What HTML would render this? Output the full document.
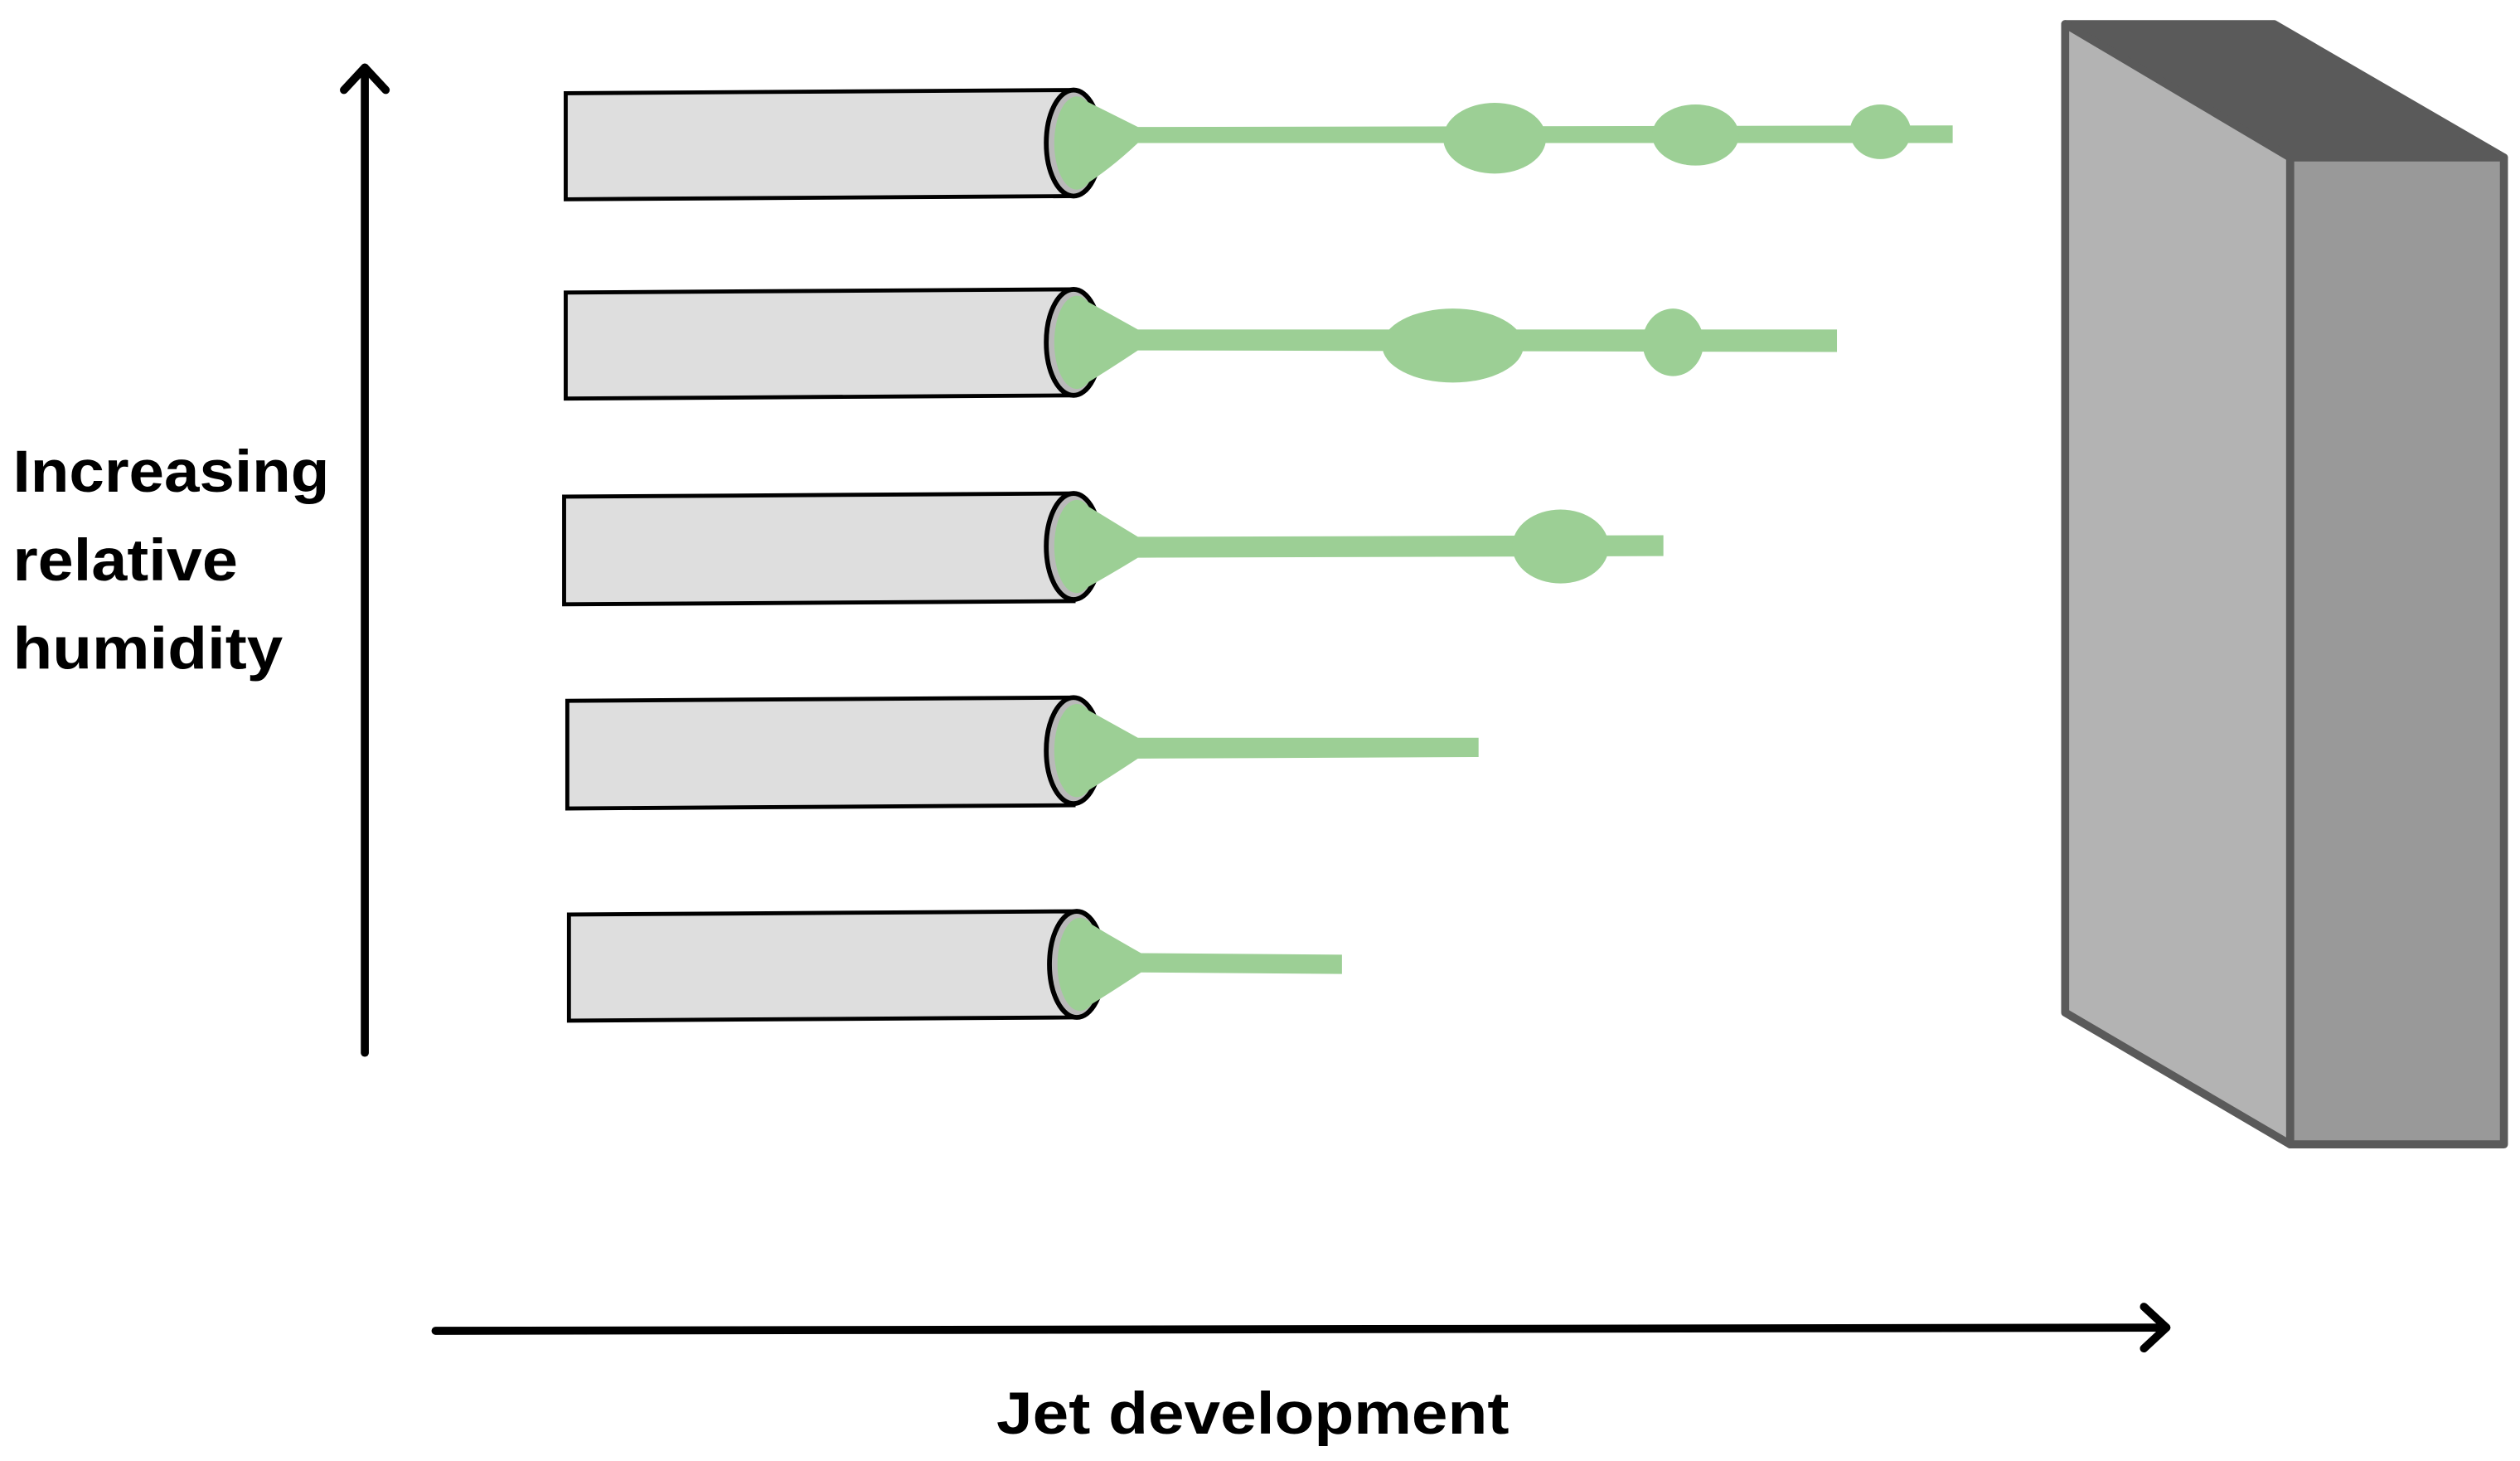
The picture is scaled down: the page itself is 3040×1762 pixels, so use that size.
<!DOCTYPE html>
<html><head><meta charset="utf-8"><style>
html,body{margin:0;padding:0;background:#fff;}
svg{display:block;}
text{font-family:"Liberation Sans",sans-serif;font-weight:bold;fill:#000;}
</style></head><body>
<svg width="3040" height="1762" viewBox="0 0 1568 909" preserveAspectRatio="none" xmlns="http://www.w3.org/2000/svg">
<rect width="1568" height="909" fill="#fff"/>
<g stroke="#5a5a5a" stroke-width="5" stroke-linejoin="round">
<polygon points="1285,15 1415,15 1558,98 1425,98" fill="#5a5a5a"/>
<polygon points="1285,15 1425,98 1425,712 1285,630" fill="#b3b3b3"/>
<polygon points="1425,98 1558,98 1558,712 1425,712" fill="#999"/>
</g>
<g stroke="#000" stroke-width="5" fill="none" stroke-linecap="round" stroke-linejoin="round">
<line x1="227" y1="655" x2="227" y2="42"/>
<polyline points="214,56 227,42 240,56"/>
<line x1="271" y1="828" x2="1348" y2="826"/>
<polyline points="1334,813 1348,826 1334,839"/>
</g>
<g fill="#dedede" stroke="#000" stroke-width="2.5">
<path d="M352,58 L668,56 L668,122 L352,124 Z"/>
<path d="M352,182 L668,180 L668,246 L352,248 Z"/>
<path d="M351,309 L668,307 L668,374 L351,376 Z"/>
<path d="M353,436 L668,434 L668,501 L353,503 Z"/>
<path d="M354,569 L668,567 L668,633 L354,635 Z"/>
</g>
<g fill="#b9b9b9" stroke="#000" stroke-width="3">
<ellipse cx="668" cy="89" rx="17" ry="33"/>
<ellipse cx="668" cy="213" rx="17" ry="33"/>
<ellipse cx="668" cy="340" rx="17" ry="33"/>
<ellipse cx="668" cy="467" rx="17" ry="33"/>
<ellipse cx="670" cy="600" rx="17" ry="33"/>
</g>
<g fill="#9ccf95">
<ellipse cx="670" cy="89" rx="14" ry="29"/>
<path d="M672,61 Q690,70 708,79 L1215,78 L1215,89 L708,89 Q690,106 672,117 Z"/>
<ellipse cx="930" cy="86" rx="32" ry="22"/>
<ellipse cx="1055" cy="84" rx="27" ry="19"/>
<ellipse cx="1170" cy="82" rx="19" ry="17"/>

<ellipse cx="670" cy="213" rx="14" ry="29"/>
<path d="M672,185 Q690,195 708,205 L1143,205 L1143,219 L708,218 Q690,230 672,241 Z"/>
<ellipse cx="904" cy="215" rx="44" ry="23"/>
<ellipse cx="1041" cy="213" rx="19" ry="21"/>

<ellipse cx="670" cy="340" rx="14" ry="29"/>
<path d="M672,312 Q690,323 708,334 L1035,333 L1035,346 L708,347 Q690,358 672,368 Z"/>
<ellipse cx="971" cy="340" rx="30" ry="23"/>

<ellipse cx="670" cy="467" rx="14" ry="29"/>
<path d="M672,439 Q690,449 708,459 L920,459 L920,471 L708,472 Q690,484 672,495 Z"/>

<ellipse cx="672" cy="600" rx="14" ry="29"/>
<path d="M674,572 Q692,583 710,593 L835,594 L835,606 L710,605 Q692,617 674,628 Z"/>
</g>
<text x="8" y="306" font-size="37" textLength="197" lengthAdjust="spacingAndGlyphs">Increasing</text>
<text x="8" y="361" font-size="37" textLength="140" lengthAdjust="spacingAndGlyphs">relative</text>
<text x="8" y="416" font-size="37" textLength="168" lengthAdjust="spacingAndGlyphs">humidity</text>
<text x="620" y="892" font-size="37" textLength="319" lengthAdjust="spacingAndGlyphs">Jet development</text>
</svg>
</body></html>
